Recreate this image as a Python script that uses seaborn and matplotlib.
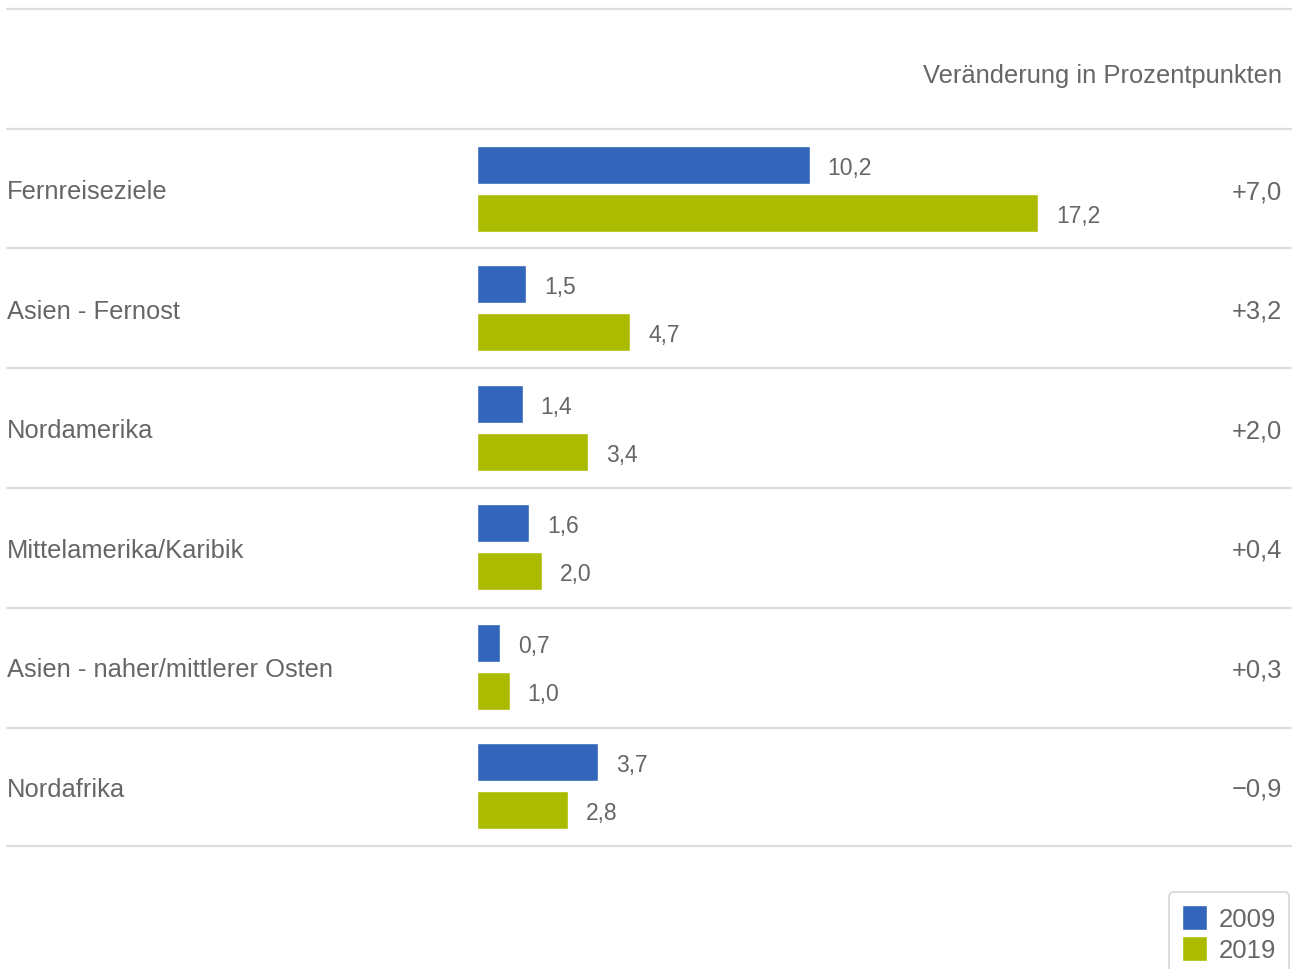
import matplotlib
matplotlib.use("Agg")
import matplotlib.pyplot as plt
import seaborn as sns
import pandas as pd
from matplotlib.lines import Line2D

regions = ["Fernreiseziele", "Asien - Fernost", "Nordamerika", "Mittelamerika/Karibik",
           "Asien - naher/mittlerer Osten", "Nordafrika"]
werte_2009 = [10.2, 1.5, 1.4, 1.6, 0.7, 3.7]
werte_2019 = [17.2, 4.7, 3.4, 2.0, 1.0, 2.8]
jahre = ["2009", "2019"]
kopfzeile = "Veränderung in Prozentpunkten"

farben = ["#3366BB", "#ABBB00"]
textfarbe = "#666666"
linienfarbe = "#DDDDDD"

sns.set_style("white")
plt.rcParams["font.family"] = ["Liberation Sans", "DejaVu Sans"]

df = pd.DataFrame({
    "region": regions * 2,
    "wert": werte_2009 + werte_2019,
    "jahr": [jahre[0]] * len(regions) + [jahre[1]] * len(regions),
})

W, H = 1295, 970
fig = plt.figure(figsize=(W / 100, H / 100), dpi=100)
top_px, bot_px = 130, 847
ax = fig.add_axes([0, 1 - bot_px / H, 1, (bot_px - top_px) / H])

sns.barplot(data=df, y="region", x="wert", hue="jahr", orient="h",
            palette=farben, width=0.8, gap=0.2, saturation=1,
            ax=ax, legend=True)

px_per_unit = 32.6
x0_px = 477
ax.set_xlim(-x0_px / px_per_unit, (W - x0_px) / px_per_unit)
ax.set_ylim(len(regions) - 0.5, -0.5)
ax.set_axis_off()

def fmt(v):
    return f"{v:.1f}".replace(".", ",")

for cont, vals in zip(ax.containers, [werte_2009, werte_2019]):
    labs = ax.bar_label(cont, labels=[fmt(v) for v in vals], padding=13,
                        fontsize=16.5, color=textfarbe)
    for t in labs:
        t.set_va("center_baseline")

# category names and change in percentage points
for i, (r, a, b) in enumerate(zip(regions, werte_2009, werte_2019)):
    ax.text(7 / W, i, r, transform=ax.get_yaxis_transform(), ha="left",
            va="center_baseline", fontsize=18.4, color=textfarbe)
    d = round(b - a, 1)
    s = ("+" if d >= 0 else "\u2212") + fmt(abs(d))
    ax.text(1282 / W, i, s, transform=ax.get_yaxis_transform(), ha="right",
            va="center_baseline", fontsize=18.4, color=textfarbe)

# separator lines
for y_px in [10, 130, 249, 369, 489, 609, 729, 847]:
    fig.add_artist(Line2D([7 / W, 1291 / W], [1 - y_px / H] * 2,
                          color=linienfarbe, lw=1.6, transform=fig.transFigure))

fig.text(1282 / W, 1 - 74 / H, kopfzeile, ha="right", va="center_baseline",
         fontsize=18.4, color=textfarbe)

leg = ax.legend(loc="upper right", bbox_to_anchor=(1289 / W, 1 - 893 / H),
                bbox_transform=fig.transFigure, borderaxespad=0,
                frameon=True, fancybox=True,
                fontsize=18.5, handlelength=1.0, handleheight=1.1,
                handletextpad=0.45, labelspacing=0.2, borderpad=0.5,
                edgecolor="#CCCCCC", title=None)
for t in leg.get_texts():
    t.set_color(textfarbe)
leg.get_frame().set_linewidth(1.2)

fig.savefig("out.png", dpi=100, facecolor="white")
